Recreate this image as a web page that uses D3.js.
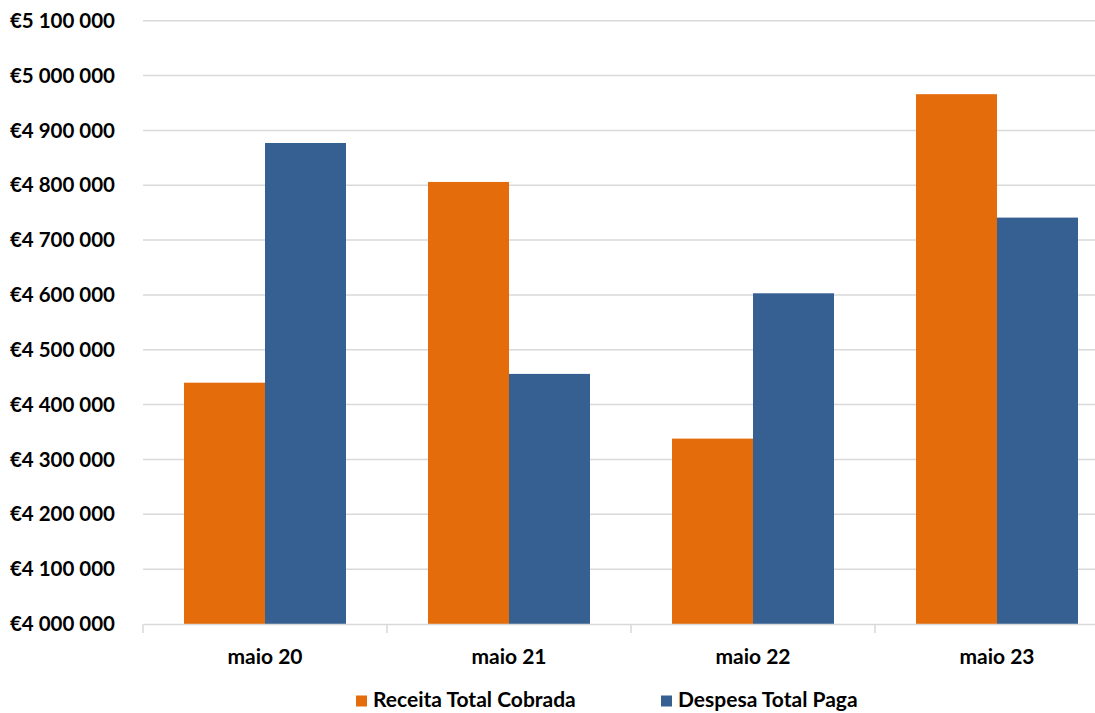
<!DOCTYPE html>
<html lang="pt">
	<head>
		<meta charset="utf-8">
		<title>Receita vs Despesa</title>
		<script type="text/javascript" src="https://cdn.jsdelivr.net/npm/d3@7"></script>
		<style type="text/css">
			body { margin: 0; background: #fff; }
			text { font-family: Lato, "Open Sans", sans-serif; font-weight: bold; fill: #000; }
		</style>
	</head>
	<body>
		<script type="text/javascript">
			// data
			var categories = ["maio 20", "maio 21", "maio 22", "maio 23"];
			var seriesNames = ["Receita Total Cobrada", "Despesa Total Paga"];
			var receita = [4440000, 4806000, 4338000, 4966000];
			var despesa = [4877000, 4456000, 4603000, 4741000];
			var yTicks = [4000000, 4100000, 4200000, 4300000, 4400000, 4500000,
			              4600000, 4700000, 4800000, 4900000, 5000000, 5100000];
			var colors = ["#E46C0A", "#366092"];

			var w = 1095;
			var h = 713;
			var plotLeft = 143, plotRight = 1119, plotTop = 20.7, plotBottom = 624;

			var svg = d3.select("body")
						.append("svg")
						.attr("width", w)
						.attr("height", h);

			var xScale = d3.scaleBand()
						   .domain(categories)
						   .range([plotLeft, plotRight])
						   .paddingInner(0)
						   .paddingOuter(0);

			var sub = d3.scaleBand()
						.domain(seriesNames)
						.range([41, xScale.bandwidth() - 41]);

			var yScale = d3.scaleLinear()
						   .domain([4000000, 5100000])
						   .range([plotBottom, plotTop]);

			var fmt = function(v) {
				return "€" + d3.format(",")(v).replace(/,/g, " ");
			};

			//gridlines
			svg.append("g")
			   .selectAll("line")
			   .data(yTicks.slice(1))
			   .enter()
			   .append("line")
			   .attr("x1", plotLeft)
			   .attr("x2", plotRight)
			   .attr("y1", function(d) { return yScale(d); })
			   .attr("y2", function(d) { return yScale(d); })
			   .attr("stroke", "#d9d9d9")
			   .attr("stroke-width", 1.5);

			//y labels
			svg.append("g")
			   .selectAll("text")
			   .data(yTicks)
			   .enter()
			   .append("text")
			   .attr("x", 115)
			   .attr("y", function(d) { return yScale(d); })
			   .attr("dy", "0.35em")
			   .attr("text-anchor", "end")
			   .style("font-size", "20.5px")
			   .text(fmt);

			//bars
			var rows = categories.map(function(c, i) {
				return { cat: c, vals: [receita[i], despesa[i]] };
			});

			svg.append("g")
			   .selectAll("g")
			   .data(rows)
			   .enter()
			   .append("g")
			   .attr("transform", function(d) { return "translate(" + xScale(d.cat) + ",0)"; })
			   .selectAll("rect")
			   .data(function(d) { return d.vals.map(function(v, j) { return { s: seriesNames[j], v: v, j: j }; }); })
			   .enter()
			   .append("rect")
			   .attr("x", function(d) { return sub(d.s); })
			   .attr("width", sub.bandwidth())
			   .attr("y", function(d) { return yScale(d.v); })
			   .attr("height", function(d) { return plotBottom - yScale(d.v); })
			   .attr("fill", function(d) { return colors[d.j]; });

			//x axis
			var xAxis = d3.axisBottom(xScale).tickSize(0).tickFormat("");
			var ax = svg.append("g")
						.attr("transform", "translate(0," + plotBottom + ")")
						.call(xAxis);
			ax.select(".domain").attr("stroke", "#d9d9d9").attr("stroke-width", 1.5);

			svg.append("g")
			   .selectAll("line")
			   .data(d3.range(categories.length + 1))
			   .enter()
			   .append("line")
			   .attr("x1", function(i) { return plotLeft + i * xScale.step(); })
			   .attr("x2", function(i) { return plotLeft + i * xScale.step(); })
			   .attr("y1", plotBottom)
			   .attr("y2", plotBottom + 9)
			   .attr("stroke", "#d9d9d9")
			   .attr("stroke-width", 1.5);

			svg.append("g")
			   .selectAll("text")
			   .data(categories)
			   .enter()
			   .append("text")
			   .attr("x", function(d) { return xScale(d) + xScale.bandwidth() / 2; })
			   .attr("y", 657)
			   .attr("dy", "0.35em")
			   .attr("text-anchor", "middle")
			   .style("font-size", "21px")
			   .text(function(d) { return d; });

			//legend
			var legX = [356, 661];
			var leg = svg.append("g")
						 .selectAll("g")
						 .data(seriesNames)
						 .enter()
						 .append("g")
						 .attr("transform", function(d, i) { return "translate(" + legX[i] + ",700)"; });
			leg.append("rect")
			   .attr("x", 0)
			   .attr("y", -4.5)
			   .attr("width", 11)
			   .attr("height", 11)
			   .attr("fill", function(d, i) { return colors[i]; });
			leg.append("text")
			   .attr("x", 17)
			   .attr("y", 0)
			   .attr("dy", "0.35em")
			   .style("font-size", "21px")
			   .text(function(d) { return d; });
		</script>
	</body>
</html>
